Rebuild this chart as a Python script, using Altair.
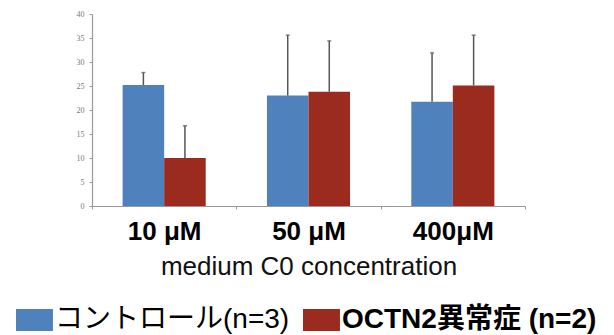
import altair as alt
import pandas as pd

categories = ["10 μM", "50 μM", "400μM"]
groups = ["コントロール(n=3)", "OCTN2異常症 (n=2)"]
colors = ["#4F81BD", "#9A2B1E"]

control_mean = [25.2, 23.0, 21.7]
control_upper = [27.8, 35.6, 31.9]
octn2_mean = [10.0, 23.8, 25.1]
octn2_upper = [16.7, 34.4, 35.6]

rows = []
for i, c in enumerate(categories):
    rows.append({"cat": c, "group": groups[0], "value": control_mean[i], "upper": control_upper[i]})
    rows.append({"cat": c, "group": groups[1], "value": octn2_mean[i], "upper": octn2_upper[i]})
df = pd.DataFrame(rows)

x_enc = alt.X(
    "cat:N",
    sort=categories,
    scale=alt.Scale(paddingInner=0, paddingOuter=0),
    title="medium C0 concentration",
    axis=alt.Axis(
        labelAngle=0,
        labelFont="Liberation Sans",
        labelFontSize=26,
        labelFontWeight="bold",
        labelColor="#000000",
        labelPadding=9,
        tickBand="extent",
        tickSize=3,
        tickColor="#999999",
        domainColor="#999999",
        domainWidth=1.2,
        titleFont="Liberation Sans",
        titleFontSize=26,
        titleFontWeight="normal",
        titleColor="#111111",
        titleBaseline="alphabetic",
        titleY=68,
    ),
)
xo_enc = alt.XOffset(
    "group:N", sort=groups, scale=alt.Scale(paddingInner=0, paddingOuter=0.737)
)
y_axis = alt.Axis(
    values=[0, 5, 10, 15, 20, 25, 30, 35, 40],
    grid=False,
    labelFont="Liberation Serif",
    labelFontSize=8,
    labelColor="#777777",
    labelPadding=5,
    labelOverlap=False,
    tickSize=3,
    tickColor="#999999",
    domainColor="#999999",
    domainWidth=1.2,
    title=None,
)
y_scale = alt.Scale(domain=[0, 40])

base = alt.Chart(df)

bars = base.mark_bar().encode(
    x=x_enc,
    xOffset=xo_enc,
    y=alt.Y("value:Q", scale=y_scale, axis=y_axis),
    color=alt.Color(
        "group:N",
        sort=groups,
        scale=alt.Scale(domain=groups, range=colors),
        legend=alt.Legend(
            title=None,
            orient="none",
            direction="horizontal",
            legendX=-79,
            legendY=292,
            symbolType="M-1,-1H2.36V1H-1Z",
            symbolSize=484,
            symbolStrokeWidth=0,
            symbolOpacity=1,
            labelFont="Liberation Sans, Noto Sans CJK JP",
            labelFontSize=28,
            labelColor="#000000",
            labelOffset=14,
            labelLimit=0,
            columnPadding=10,
            labelFontWeight=alt.ExprRef(
                "datum.label == 'OCTN2異常症 (n=2)' ? 'bold' : 'normal'"
            ),
        ),
    ),
)

rules = base.mark_rule(color="#555555", strokeWidth=1.5).encode(
    x=x_enc, xOffset=xo_enc, y=alt.Y("value:Q", scale=y_scale, axis=y_axis), y2="upper:Q"
)
caps = base.mark_tick(color="#555555", thickness=1.5, size=4, orient="horizontal").encode(
    x=x_enc, xOffset=xo_enc, y=alt.Y("upper:Q", scale=y_scale, axis=y_axis)
)

chart = (
    alt.layer(bars, rules, caps)
    .properties(
        width=433,
        height=192,
        autosize=alt.AutoSizeParams(type="none"),
        padding={"left": 84, "top": 6, "right": 81, "bottom": 129},
    )
    .configure_view(stroke=None)
)

chart.save("out.html", embed_options={"renderer": "svg", "actions": False})
